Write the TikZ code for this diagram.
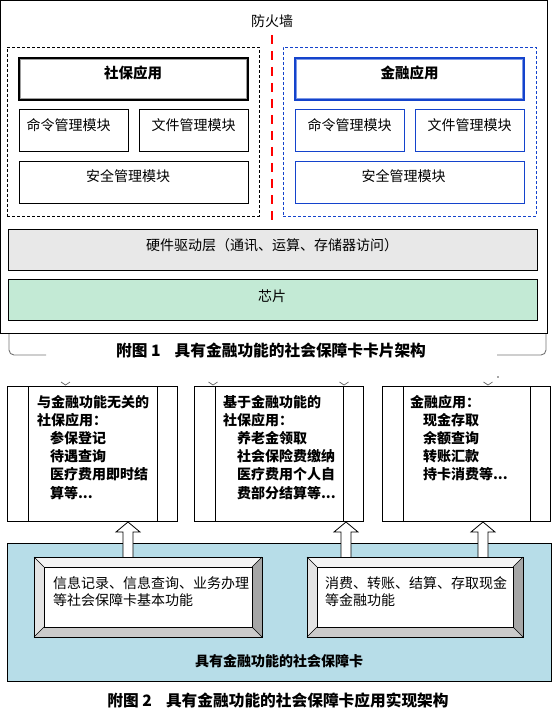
\documentclass[tikz,border=0pt]{standalone}
\usepackage{fontspec}
\setmainfont{Noto Sans CJK SC}
\definecolor{hwgray}{HTML}{E8E8E8}
\definecolor{chipgreen}{HTML}{C3EAD5}
\definecolor{cardblue}{HTML}{B7DDE8}
\definecolor{lineblue}{HTML}{1443CC}
\definecolor{lightblue}{HTML}{7D98E6}
\definecolor{bvtop}{HTML}{F4F4F4}
\definecolor{bvleft}{HTML}{E4E4E4}
\definecolor{bvright}{HTML}{A6A6A6}
\definecolor{bvbottom}{HTML}{CBCBCB}
\newcommand\bx[6]{\node[#6, inner sep=0pt, outer sep=0pt, minimum width={((#4)-(#2))*1pt}, minimum height={((#5)-(#3))*1pt}] (#1) at ({((#2)+(#4))/2},{((#3)+(#5))/2}) {};}
\newcommand\bevelbox[5]{%
  \fill[bvtop] (#2,#3) -- (#4,#3) -- ({#4-10},{#3+10}) -- ({#2+10},{#3+10}) -- cycle;
  \fill[bvleft] (#2,#3) -- ({#2+10},{#3+10}) -- ({#2+10},{#5-10}) -- (#2,#5) -- cycle;
  \fill[bvright] (#4,#3) -- (#4,#5) -- ({#4-10},{#5-10}) -- ({#4-10},{#3+10}) -- cycle;
  \fill[bvbottom] (#2,#5) -- (#4,#5) -- ({#4-10},{#5-10}) -- ({#2+10},{#5-10}) -- cycle;
  \bx{#1}{#2}{#3}{#4}{#5}{draw=black, line width=0.8pt}
  \bx{#1in}{#2+10}{#3+10}{#4-10}{#5-10}{draw=black, line width=0.8pt, fill=white}
  \draw[line width=0.6pt] (#1.north west) -- (#1in.north west) (#1.north east) -- (#1in.north east)
     (#1.south west) -- (#1in.south west) (#1.south east) -- (#1in.south east);
}
\begin{document}
\begin{tikzpicture}[x=1pt,y=-1pt,
  txt/.style={inner sep=0pt, outer sep=0pt, font=\fontsize{14pt}{17pt}\selectfont},
  txtb/.style={inner sep=0pt, outer sep=0pt, font=\fontsize{14pt}{17pt}\selectfont\bfseries},
  captxt/.style={inner sep=0pt, outer sep=0pt, font=\fontsize{15.7pt}{18pt}\selectfont\bfseries},
  plainbox/.style={draw=black, line width=0.8pt},
  blueplainbox/.style={draw=lineblue, line width=0.9pt},
  dashbox/.style={draw=black, line width=0.8pt, dash pattern=on 3pt off 2pt},
  bluedashbox/.style={draw=lineblue, line width=0.8pt, dash pattern=on 3pt off 2pt},
  appblack/.style={draw=black, line width=2.2pt},
  appblue/.style={draw=lineblue, line width=2.2pt},
  blockarrow/.style={draw=black, fill=white, line width=0.8pt, line join=miter},
  chevron/.style={draw=black!60, line width=0.7pt}]
\useasboundingbox (0,0) rectangle (554,722);

% ---------- figure 1 ----------
\draw[black!55, line width=0.9pt, rounded corners=5pt] (9,333) -- (9,355) -- (46,355);
\draw[black!55, line width=0.9pt, rounded corners=5pt] (497,355) -- (546,355) -- (546,333);
\bx{outer}{0.5}{0.5}{547}{333}{draw=black, line width=1pt, fill=white}

\node[txt, anchor=base] (fwtext) at (272,27) {防火墙};
\coordinate (fwtop) at (272,35);
\coordinate (fwbot) at (272,227);
\draw[red, line width=2.5pt, dash pattern=on 9pt off 7pt] (fwtop) -- (fwbot);

\bx{ldash}{7}{47}{259}{216}{dashbox}
\bx{rdash}{283}{47}{536}{216}{bluedashbox}

\bx{sbapp}{19}{58}{248}{100}{appblack}
\bx{jrapp}{295}{58}{524}{100}{appblue}
\draw[gray!75, line width=0.8pt] ([shift={(1.6,1.6)}]sbapp.north west) rectangle ([shift={(-1.6,-1.6)}]sbapp.south east);
\draw[lightblue, line width=0.8pt] ([shift={(1.6,1.6)}]jrapp.north west) rectangle ([shift={(-1.6,-1.6)}]jrapp.south east);
\node[txtb, anchor=base, font=\fontsize{14.5pt}{17pt}\selectfont\bfseries] (sbtext) at (133,79) {社保应用};
\node[txtb, anchor=base, font=\fontsize{14.5pt}{17pt}\selectfont\bfseries] (jrtext) at (409.5,79) {金融应用};

\bx{lcmd}{19}{109}{128}{151}{plainbox}
\bx{lfile}{139}{109}{248}{151}{plainbox}
\bx{lsec}{19}{161}{248}{203}{plainbox}
\bx{rcmd}{295}{109}{404}{151}{blueplainbox}
\bx{rfile}{415}{109}{524}{151}{blueplainbox}
\bx{rsec}{295}{161}{524}{203}{blueplainbox}
\node[txt, anchor=base] (lcmdt) at (68.5,131) {命令管理模块};
\node[txt, anchor=base] (lfilet) at (193.5,131) {文件管理模块};
\node[txt, anchor=base] (lsect) at (128,182) {安全管理模块};
\node[txt, anchor=base] (rcmdt) at (349.5,131) {命令管理模块};
\node[txt, anchor=base] (rfilet) at (469.5,131) {文件管理模块};
\node[txt, anchor=base] (rsect) at (403.5,182) {安全管理模块};

\bx{hw}{8}{229}{537}{270}{plainbox, fill=hwgray}
\bx{chip}{8}{279}{537}{320}{plainbox, fill=chipgreen}
\node[txt, anchor=base] (hwt) at (272,250) {硬件驱动层（通讯、运算、存储器访问）};
\node[txt, anchor=base] (chipt) at (272,301) {芯片};

\node[captxt, anchor=base] (cap1) at (271,356) {附图 1\hspace{0.9em}具有金融功能的社会保障卡卡片架构};

% ---------- figure 2 ----------
\draw[chevron] (61,382) -- (65.5,385) -- (70,382);
\draw[chevron] (208.5,382) -- (213,385) -- (217.5,382);
\draw[chevron] (339.5,382) -- (344,385) -- (348.5,382);
\draw[chevron] (483.5,382) -- (488,385) -- (492.5,382);
\fill[black!70] (498,377) circle (0.8);

\bx{b1}{7}{386}{177}{521}{plainbox}
\bx{b2}{194}{386}{363}{521}{plainbox}
\bx{b3}{382}{386}{550}{521}{plainbox}
\foreach \b in {b1,b2,b3}{
  \draw[line width=0.8pt] ([xshift=21pt]\b.north west) -- ([xshift=21pt]\b.south west);
  \draw[line width=0.8pt] ([xshift=-20pt]\b.north east) -- ([xshift=-20pt]\b.south east);
}

\node[txtb, anchor=base west] (b1l1) at (37,407) {与金融功能无关的};
\node[txtb, anchor=base west] (b1l2) at (37,425) {社保应用：};
\node[txtb, anchor=base west] (b1l3) at (50,443) {参保登记};
\node[txtb, anchor=base west] (b1l4) at (50,461) {待遇查询};
\node[txtb, anchor=base west] (b1l5) at (50,479.5) {医疗费用即时结};
\node[txtb, anchor=base west] (b1l6) at (50,498) {算等...};

\node[txtb, anchor=base west] (b2l1) at (223,407) {基于金融功能的};
\node[txtb, anchor=base west] (b2l2) at (223,425) {社保应用：};
\node[txtb, anchor=base west] (b2l3) at (237,443) {养老金领取};
\node[txtb, anchor=base west] (b2l4) at (237,461) {社会保险费缴纳};
\node[txtb, anchor=base west] (b2l5) at (237,479.5) {医疗费用个人自};
\node[txtb, anchor=base west] (b2l6) at (237,498) {费部分结算等...};

\node[txtb, anchor=base west] (b3l1) at (410,407) {金融应用：};
\node[txtb, anchor=base west] (b3l2) at (423,425) {现金存取};
\node[txtb, anchor=base west] (b3l3) at (423,443) {余额查询};
\node[txtb, anchor=base west] (b3l4) at (423,461) {转账汇款};
\node[txtb, anchor=base west] (b3l5) at (423,479.5) {持卡消费等...};

\bx{card}{7}{543}{551}{681}{plainbox, fill=cardblue}

% hollow block arrows
\foreach \cx in {128, 346, 483}{
  \draw[blockarrow] (\cx,522) -- ({\cx+12},532) -- ({\cx+5},532) -- ({\cx+5},557.5)
     -- ({\cx-5},557.5) -- ({\cx-5},532) -- ({\cx-12},532) -- cycle;
}

\bevelbox{bv1}{34}{557}{262}{637}
\bevelbox{bv2}{307}{557}{523}{637}

\node[txt, anchor=base west] (bv1l1) at (53,588) {信息记录、信息查询、业务办理};
\node[txt, anchor=base west] (bv1l2) at (53,605.5) {等社会保障卡基本功能};
\node[txt, anchor=base west] (bv2l1) at (325,588) {消费、转账、结算、存取现金};
\node[txt, anchor=base west] (bv2l2) at (325,605.5) {等金融功能};

\node[txtb, anchor=base] (cardt) at (279,666) {具有金融功能的社会保障卡};

\node[captxt, anchor=base] (cap2) at (278,706) {附图 2\hspace{0.9em}具有金融功能的社会保障卡应用实现架构};
\end{tikzpicture}
\end{document}
